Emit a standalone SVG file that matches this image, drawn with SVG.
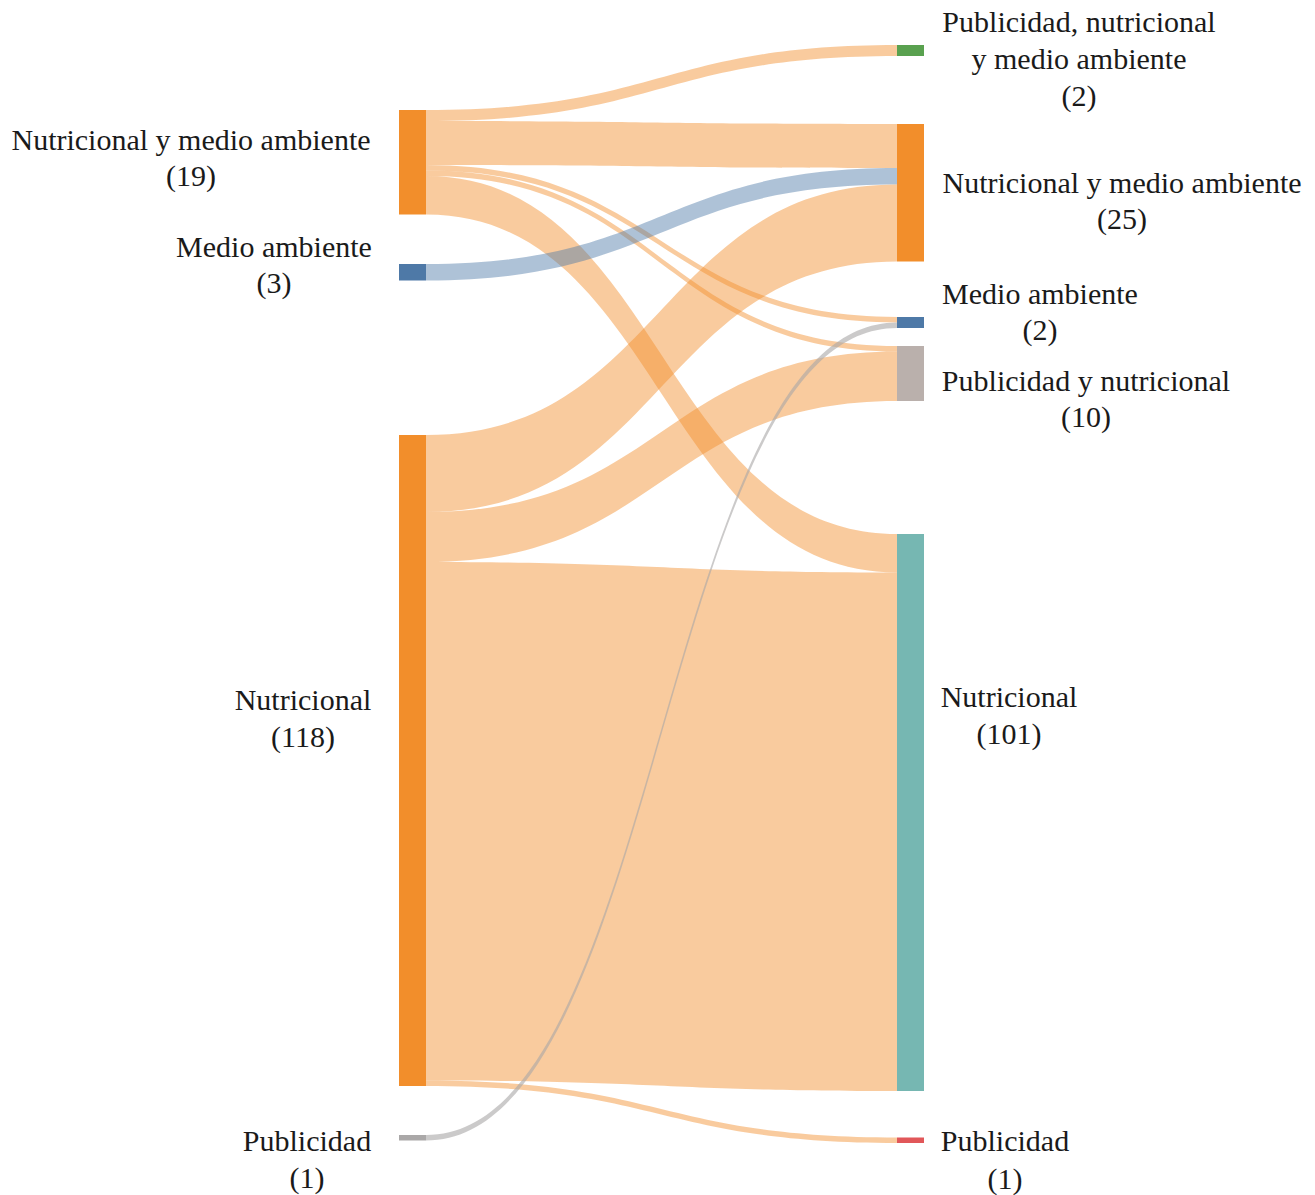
<svg xmlns="http://www.w3.org/2000/svg" width="1315" height="1195" viewBox="0 0 1315 1195">
<style>
  .lo { fill: #f28e2b; fill-opacity: 0.46; }
  .lb { fill: #4e79a7; fill-opacity: 0.46; }
  .lg { fill: #a8a6a6; fill-opacity: 0.6; }
  text { font-family: "Liberation Serif", "Times New Roman", serif; font-size: 30px; fill: #1a1a1a; text-anchor: middle; }
</style>
<rect width="1315" height="1195" fill="#ffffff"/>
<g id="connectors">
  <path id="l-nyma-pnma" class="lo" d="M426,110 C661.5,110 661.5,45 897,45 L897,56 C661.5,56 661.5,121 426,121 Z"/>
  <path id="l-nyma-nyma" class="lo" d="M426,121 C661.5,121 661.5,124 897,124 L897,168 C661.5,168 661.5,165 426,165 Z"/>
  <path id="l-nyma-ma" class="lo" d="M426,165 C661.5,165 661.5,317 897,317 L897,322.5 C661.5,322.5 661.5,170.5 426,170.5 Z"/>
  <path id="l-nyma-pyn" class="lo" d="M426,170.5 C661.5,170.5 661.5,346 897,346 L897,351.5 C661.5,351.5 661.5,176 426,176 Z"/>
  <path id="l-nyma-n" class="lo" d="M426,176 C661.5,176 661.5,534 897,534 L897,572.5 C661.5,572.5 661.5,214.5 426,214.5 Z"/>
  <path id="l-ma-nyma" class="lb" d="M426,264 C661.5,264 661.5,168 897,168 L897,184.5 C661.5,184.5 661.5,280.5 426,280.5 Z"/>
  <path id="l-n-nyma" class="lo" d="M426,435 C661.5,435 661.5,184.5 897,184.5 L897,261.5 C661.5,261.5 661.5,512 426,512 Z"/>
  <path id="l-n-pyn" class="lo" d="M426,512 C661.5,512 661.5,351.5 897,351.5 L897,401 C661.5,401 661.5,562 426,562 Z"/>
  <path id="l-n-n" class="lo" d="M426,562 C661.5,562 661.5,572.5 897,572.5 L897,1091 C661.5,1091 661.5,1080.5 426,1080.5 Z"/>
  <path id="l-n-p" class="lo" d="M426,1080.5 C661.5,1080.5 661.5,1137.5 897,1137.5 L897,1143 C661.5,1143 661.5,1086 426,1086 Z"/>
  <path id="l-p-ma" class="lg" d="M426,1135 C661.5,1135 661.5,322.5 897,322.5 L897,328 C661.5,328 661.5,1140.5 426,1140.5 Z"/>
</g>
<g id="node-left-nyma">
  <rect x="399" y="110" width="27" height="104.5" fill="#f28e2b"/>
  <text x="191" y="150">Nutricional y medio ambiente</text>
  <text x="191" y="186">(19)</text>
</g>
<g id="node-left-ma">
  <rect x="399" y="264" width="27" height="16.5" fill="#4e79a7"/>
  <text x="274" y="257">Medio ambiente</text>
  <text x="274" y="293">(3)</text>
</g>
<g id="node-left-n">
  <rect x="399" y="435" width="27" height="651" fill="#f28e2b"/>
  <text x="303" y="710">Nutricional</text>
  <text x="303" y="747">(118)</text>
</g>
<g id="node-left-p">
  <rect x="399" y="1135" width="27" height="5.5" fill="#aaa8a8"/>
  <text x="307" y="1151">Publicidad</text>
  <text x="307" y="1188">(1)</text>
</g>
<g id="node-right-pnma">
  <rect x="897" y="45" width="27" height="11" fill="#59a14f"/>
  <text x="1079" y="32">Publicidad, nutricional</text>
  <text x="1079" y="69">y medio ambiente</text>
  <text x="1079" y="106">(2)</text>
</g>
<g id="node-right-nyma">
  <rect x="897" y="124" width="27" height="137.5" fill="#f28e2b"/>
  <text x="1122" y="193">Nutricional y medio ambiente</text>
  <text x="1122" y="229">(25)</text>
</g>
<g id="node-right-ma">
  <rect x="897" y="317" width="27" height="11" fill="#4e79a7"/>
  <text x="1040" y="304">Medio ambiente</text>
  <text x="1040" y="340">(2)</text>
</g>
<g id="node-right-pyn">
  <rect x="897" y="346" width="27" height="55" fill="#bab0ac"/>
  <text x="1086" y="391">Publicidad y nutricional</text>
  <text x="1086" y="427">(10)</text>
</g>
<g id="node-right-n">
  <rect x="897" y="534" width="27" height="557" fill="#76b7b2"/>
  <text x="1009" y="707">Nutricional</text>
  <text x="1009" y="744">(101)</text>
</g>
<g id="node-right-p">
  <rect x="897" y="1137.5" width="27" height="5.5" fill="#e15759"/>
  <text x="1005" y="1151">Publicidad</text>
  <text x="1005" y="1189">(1)</text>
</g>
</svg>
